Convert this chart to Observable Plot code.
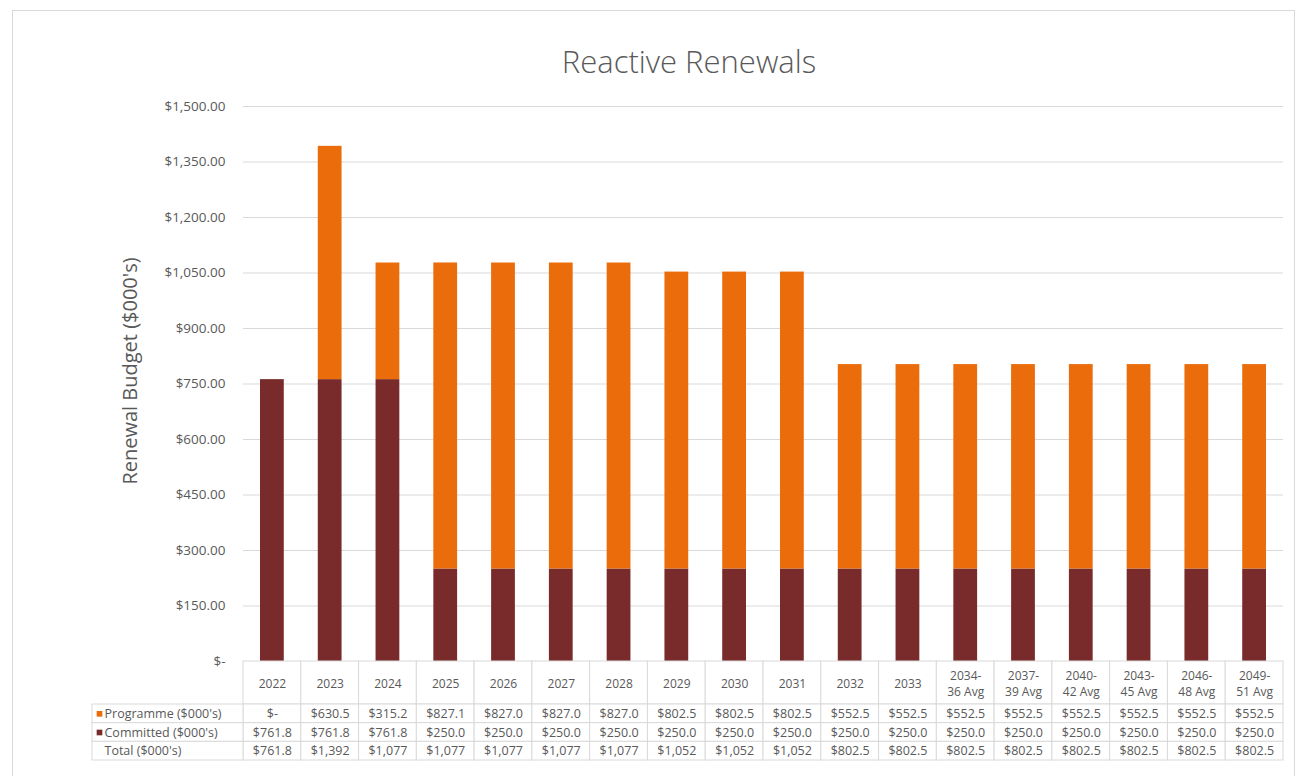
<!DOCTYPE html>
<html>
<head>
<meta charset="utf-8">
<script src="https://cdn.jsdelivr.net/npm/d3@7"></script>
<script src="https://cdn.jsdelivr.net/npm/@observablehq/plot@0.6"></script>
<style>
  body { margin: 0; background: #fff; font-family: "Open Sans", sans-serif; }
  #wrap { position: relative; width: 1304px; height: 776px; overflow: hidden; background: #fff; }
  #frame { position: absolute; left: 12px; top: 10px; width: 1281px; height: 800px; border: 1px solid #d9d9d9; }
  #title { position: absolute; left: 439px; width: 500px; top: 46px; text-align: center; font-size: 31px; line-height: 1; font-weight: 300; color: #595959; }
  .p { position: absolute; }
</style>
</head>
<body>
<div id="wrap">
  <div id="frame"></div>
  <div id="title">Reactive Renewals</div>
</div>
<script>
// ---- data ----
const categories = ["2022","2023","2024","2025","2026","2027","2028","2029","2030","2031","2032","2033",
  "2034-36 Avg","2037-39 Avg","2040-42 Avg","2043-45 Avg","2046-48 Avg","2049-51 Avg"];
const programme = [0, 630.5, 315.2, 827.1, 827.0, 827.0, 827.0, 802.5, 802.5, 802.5,
  552.5, 552.5, 552.5, 552.5, 552.5, 552.5, 552.5, 552.5];
const committed = [761.8, 761.8, 761.8, 250.0, 250.0, 250.0, 250.0, 250.0, 250.0, 250.0,
  250.0, 250.0, 250.0, 250.0, 250.0, 250.0, 250.0, 250.0];
const totals = [761.8, 1392, 1077, 1077, 1077, 1077, 1077, 1052, 1052, 1052,
  802.5, 802.5, 802.5, 802.5, 802.5, 802.5, 802.5, 802.5];
const seriesNames = ["Committed ($000's)", "Programme ($000's)"];
const seriesColors = ["#782b2a", "#ea6c0a"];
const rowLabels = ["Programme ($000's)", "Committed ($000's)", "Total ($000's)"];
const yTicks = [0, 150, 300, 450, 600, 750, 900, 1050, 1200, 1350, 1500];
const yLabel = "Renewal Budget ($000's)";

// ---- helpers ----
const FONT = "'Open Sans', sans-serif";
const TXT = "#595959";
const GRID = "#d9d9d9";
const W = 1304, ML = 243, MR = 21;
const fmtTick = v => v === 0 ? "$-" : "$" + d3.format(",.2f")(v);
const fmtVal = v => v === 0 ? "$-" : v >= 1000 ? "$" + d3.format(",.0f")(v) : "$" + d3.format(",.1f")(v);
const headerText = c => c.includes("Avg") ? c.replace("-", "-\n") : c;
const xScale = {domain: categories, padding: 0, round: false, axis: null};
const colorScale = {domain: seriesNames, range: seriesColors};

const bars = categories.flatMap((c, i) => [
  {cat: c, series: seriesNames[0], value: committed[i]},
  {cat: c, series: seriesNames[1], value: programme[i]}
]);

const cells = categories.flatMap((c, i) => [
  {cat: c, row: rowLabels[0], text: fmtVal(programme[i])},
  {cat: c, row: rowLabels[1], text: fmtVal(committed[i])},
  {cat: c, row: rowLabels[2], text: fmtVal(totals[i])}
]);

const wrap = document.getElementById("wrap");
function place(el, left, top) {
  el.classList.add("p");
  el.style.left = left + "px";
  el.style.top = top + "px";
  wrap.appendChild(el);
}

// ---- main chart ----
const chart = Plot.plot({
  width: W, height: 704,
  marginLeft: ML, marginRight: MR, marginTop: 106, marginBottom: 43,
  style: {background: "transparent", fontFamily: FONT, color: TXT, overflow: "visible"},
  x: xScale,
  y: {domain: [0, 1500], axis: null},
  color: colorScale,
  marks: [
    Plot.ruleY(yTicks, {stroke: GRID, strokeWidth: 1}),
    Plot.barY(bars, {x: "cat", y: "value", fill: "series", insetLeft: 17, insetRight: 17}),
    Plot.axisY({ticks: yTicks, tickFormat: fmtTick, tickSize: 0, tickPadding: 18, fontSize: 13.5, label: null, color: TXT}),
    Plot.text([yLabel], {frameAnchor: "left", textAnchor: "middle", dx: -113, dy: -13, rotate: -90, text: d => d, fontSize: 20, fill: TXT})
  ]
});
place(chart, 0, 0);

// ---- table header row (category labels) ----
const header = Plot.plot({
  width: W, height: 43,
  marginLeft: ML, marginRight: MR, marginTop: 0, marginBottom: 0,
  style: {background: "transparent", fontFamily: FONT, color: TXT, overflow: "visible"},
  x: xScale,
  marks: [
    Plot.cell(categories, {x: d => d, fill: "white", stroke: GRID}),
    Plot.text(categories, {x: d => d, text: headerText, fontSize: 12, fill: TXT, lineHeight: 1.3})
  ]
});
place(header, 0, 661);

// ---- table body ----
const table = Plot.plot({
  width: W, height: 56,
  marginLeft: ML, marginRight: MR, marginTop: 0, marginBottom: 0,
  style: {background: "transparent", fontFamily: FONT, color: TXT, overflow: "visible"},
  x: xScale,
  y: {domain: rowLabels, padding: 0, round: false, axis: null},
  marks: [
    Plot.cell(cells, {x: "cat", y: "row", fill: "white", stroke: GRID}),
    Plot.text(cells, {x: "cat", y: "row", text: "text", fontSize: 12.5, fill: TXT})
  ]
});
place(table, 0, 704);

// ---- table row labels with legend swatches ----
const labels = Plot.plot({
  width: 151, height: 56,
  marginLeft: 0, marginRight: 0, marginTop: 0, marginBottom: 0,
  style: {background: "transparent", fontFamily: FONT, color: TXT, overflow: "visible"},
  y: {domain: rowLabels, padding: 0, round: false, axis: null},
  color: colorScale,
  marks: [
    Plot.cell(rowLabels, {y: d => d, fill: "white", stroke: GRID}),
    Plot.dot(rowLabels.filter(r => seriesNames.includes(r)), {y: d => d, frameAnchor: "left", dx: 7, symbol: "square", r: 3.2, fill: d => d}),
    Plot.text(rowLabels, {y: d => d, text: d => d, frameAnchor: "left", dx: 12, textAnchor: "start", fontSize: 12.5, fill: TXT})
  ]
});
place(labels, 92, 704);
</script>
</body>
</html>
